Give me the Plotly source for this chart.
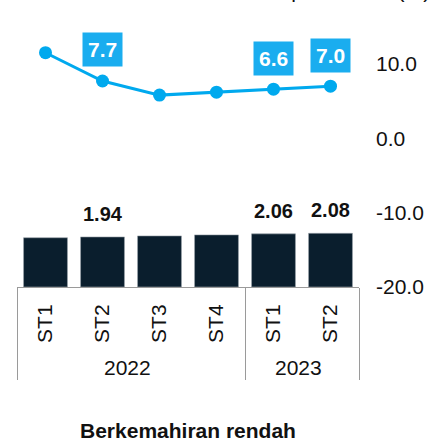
import plotly.graph_objects as go

# ---- data ----
years = ["2022", "2022", "2022", "2022", "2023", "2023"]
quarters = ["ST1", "ST2", "ST3", "ST4", "ST1", "ST2"]
bar_values = [1.91, 1.94, 1.98, 2.02, 2.06, 2.08]
bar_labels = ["", "1.94", "", "", "2.06", "2.08"]
line_values = [11.5, 7.7, 5.8, 6.2, 6.6, 7.0]
line_labels = ["", "7.7", "", "", "6.6", "7.0"]
right_tick_vals = [10, 0, -10, -20]
right_tick_text = ["10.0", "0.0", "-10.0", "-20.0"]
top_title = "Peratus perubahan (%)"
bottom_title = "Berkemahiran rendah"

FONT = "Arial, 'Liberation Sans', sans-serif"
BAR_COLOR = "#0A1E2D"
LINE_COLOR = "#00A9EE"
BOX_COLOR = "#1AADEF"

fig = go.Figure()
fig.add_trace(go.Bar(
    x=[years, quarters], y=bar_values,
    marker=dict(color=BAR_COLOR, line=dict(color="#9aa3aa", width=0.6)),
    yaxis="y", showlegend=False,
))
fig.add_trace(go.Scatter(
    x=[years, quarters], y=line_values,
    mode="lines+markers",
    line=dict(color=LINE_COLOR, width=3),
    marker=dict(color=LINE_COLOR, size=13),
    yaxis="y2", showlegend=False,
))

annotations = []
for i, (v, t) in enumerate(zip(bar_values, bar_labels)):
    if t:
        annotations.append(dict(
            x=i, y=v, xref="x", yref="y", text="<b>%s</b>" % t,
            showarrow=False, yanchor="middle", yshift=23,
            font=dict(family=FONT, size=20, color="#111111"),
        ))
for i, (v, t) in enumerate(zip(line_values, line_labels)):
    if t:
        annotations.append(dict(
            x=i, y=v, xref="x", yref="y2", text="<b>%s</b>" % t,
            showarrow=False, yanchor="middle", yshift=31,
            bgcolor=BOX_COLOR, borderpad=5,
            font=dict(family=FONT, size=21, color="white"),
        ))
annotations.append(dict(
    x=1.2133, y=1.111, xref="paper", yref="paper", text=top_title,
    showarrow=False, xanchor="right", yanchor="middle",
    font=dict(family=FONT, size=21, color="#111111"),
))
annotations.append(dict(
    x=0.5, y=-0.538, xref="paper", yref="paper", text="<b>%s</b>" % bottom_title,
    showarrow=False, xanchor="center", yanchor="middle",
    font=dict(family=FONT, size=21, color="#111111"),
))

fig.update_layout(
    width=445, height=440,
    margin=dict(l=17, r=86, t=20, b=153),
    paper_bgcolor="white", plot_bgcolor="white",
    bargap=0.23,
    font=dict(family=FONT, size=21, color="#111111"),
    xaxis=dict(
        type="multicategory",
        showline=True, linecolor="#9a9a9a", linewidth=1,
        showgrid=False, ticks="", tickangle=-90,
        ticklabelstandoff=8,
        showdividers=True, dividercolor="#9a9a9a", dividerwidth=1,
        tickfont=dict(family=FONT, size=21, color="#111111"),
    ),
    yaxis=dict(
        range=[0, 10.35], visible=False, showgrid=False, zeroline=False,
    ),
    yaxis2=dict(
        overlaying="y", side="right", range=[-20, 15.9],
        tickvals=right_tick_vals, ticktext=right_tick_text,
        showgrid=False, zeroline=False, showline=False, ticks="",
        ticklabelstandoff=16,
        tickfont=dict(family=FONT, size=21, color="#111111"),
    ),
    annotations=annotations,
)

fig.write_html(
    "out.html",
    config={"displayModeBar": False},
    post_script="document.body.style.margin='0';document.body.style.overflow='hidden';",
)
